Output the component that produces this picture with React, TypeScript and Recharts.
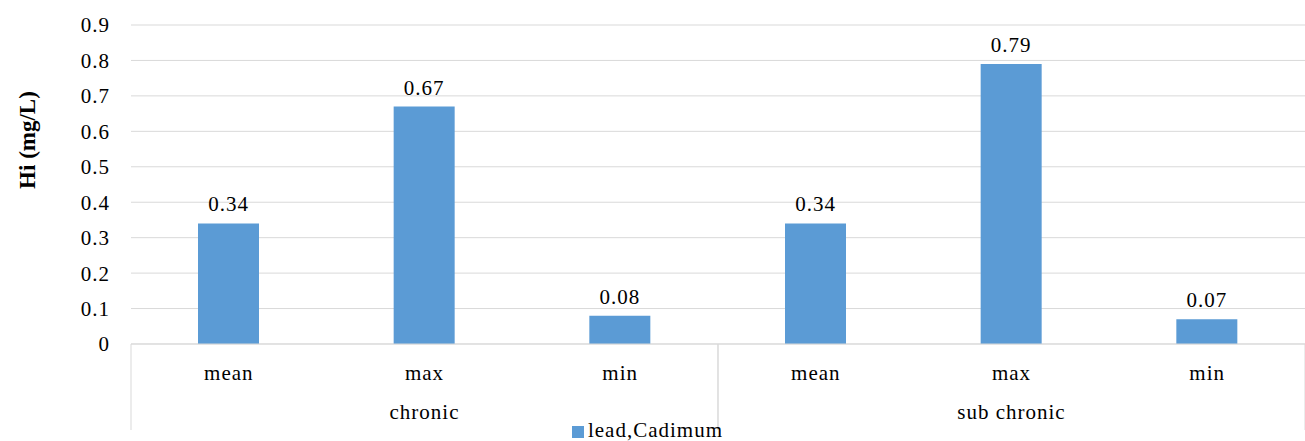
import { BarChart, Bar, XAxis, YAxis, CartesianGrid, Legend, LabelList } from "recharts";

const exposureGroups = ["chronic", "chronic", "chronic", "sub chronic", "sub chronic", "sub chronic"];
const statNames = ["mean", "max", "min", "mean", "max", "min"];
const hiValues = [0.34, 0.67, 0.08, 0.34, 0.79, 0.07];
const yTicks = [0, 0.1, 0.2, 0.3, 0.4, 0.5, 0.6, 0.7, 0.8, 0.9];

const data = statNames.map((stat, i) => ({
  stat,
  group: exposureGroups[i],
  hi: hiValues[i],
}));

const W = 1305;
const H = 441;
const Y_AXIS_W = 131;
const PLOT_W = W - Y_AXIS_W;
const STAT_AXIS_H = 40;
const GROUP_AXIS_H = 35;

const FONT = "Liberation Serif, Times New Roman, serif";
const BLUE = "#5b9bd5";
const GRID = "#d9d9d9";

// second axis row: group names centred under their categories, plus the divider lines
function GroupTick(props: any) {
  const { x, y, index } = props;
  const band = PLOT_W / data.length;
  const name = exposureGroups[index];
  const isFirst = index === 0 || exposureGroups[index - 1] !== name;
  const isLast = index === data.length - 1 || exposureGroups[index + 1] !== name;
  const size = exposureGroups.filter((g) => g === name).length;
  const top = y - STAT_AXIS_H;
  const bottom = top + 86;
  return (
    <g>
      {isFirst && <line x1={x - band / 2} x2={x - band / 2} y1={top} y2={bottom} stroke={GRID} />}
      {isLast && <line x1={x + band / 2} x2={x + band / 2} y1={top} y2={bottom} stroke={GRID} />}
      {isFirst && (
        <text
          x={x + ((size - 1) / 2) * band}
          y={y + 35}
          textAnchor="middle"
          fill="#000"
          style={{ fontSize: 21, fontFamily: FONT, letterSpacing: 1 }}
        >
          {name}
        </text>
      )}
    </g>
  );
}

function YTitle(props: any) {
  const { viewBox } = props;
  const cx = viewBox.x + 27;
  const cy = viewBox.y + 115;
  return (
    <text
      x={cx}
      y={cy}
      transform={`rotate(-90 ${cx} ${cy})`}
      textAnchor="middle"
      dominantBaseline="central"
      fill="#000"
      style={{ fontSize: 23, fontWeight: "bold", fontFamily: FONT }}
    >
      Hi (mg/L)
    </text>
  );
}

const tickStyle = { fill: "#000", fontSize: 21, fontFamily: FONT, letterSpacing: 1 };

export default function App() {
  return (
    <div style={{ position: "absolute", left: 0, top: 0, width: W, height: H, background: "#fff", fontFamily: FONT }}>
      <BarChart
        width={W}
        height={H}
        data={data}
        margin={{ top: 25, right: 0, bottom: 0, left: 0 }}
        style={{ fontFamily: FONT }}
      >
        <CartesianGrid vertical={false} stroke={GRID} />
        <YAxis
          width={Y_AXIS_W}
          domain={[0, 0.9]}
          ticks={yTicks}
          axisLine={false}
          tickLine={false}
          tickMargin={15}
          tick={tickStyle}
          label={<YTitle />}
        />
        <XAxis
          dataKey="stat"
          xAxisId={0}
          height={STAT_AXIS_H}
          axisLine={{ stroke: GRID }}
          tickLine={false}
          tickMargin={15}
          interval={0}
          tick={tickStyle}
        />
        <XAxis
          dataKey="group"
          xAxisId="group"
          height={GROUP_AXIS_H}
          axisLine={false}
          tickLine={false}
          tickSize={0}
          tickMargin={0}
          interval={0}
          allowDuplicatedCategory
          tick={<GroupTick />}
        />
        <Legend
          verticalAlign="bottom"
          align="center"
          iconType="square"
          iconSize={12}
          wrapperStyle={{ fontFamily: FONT, fontSize: 21, letterSpacing: 1, lineHeight: "22px" }}
          formatter={(value) => <span style={{ color: "#000" }}>{value}</span>}
        />
        <Bar dataKey="hi" name="lead,Cadimum" fill={BLUE} barSize={61} isAnimationActive={false}>
          <LabelList
            dataKey="hi"
            position="top"
            offset={12}
            fill="#000"
            style={{ fontSize: 21, fontFamily: FONT, letterSpacing: 1 }}
          />
        </Bar>
      </BarChart>
    </div>
  );
}
